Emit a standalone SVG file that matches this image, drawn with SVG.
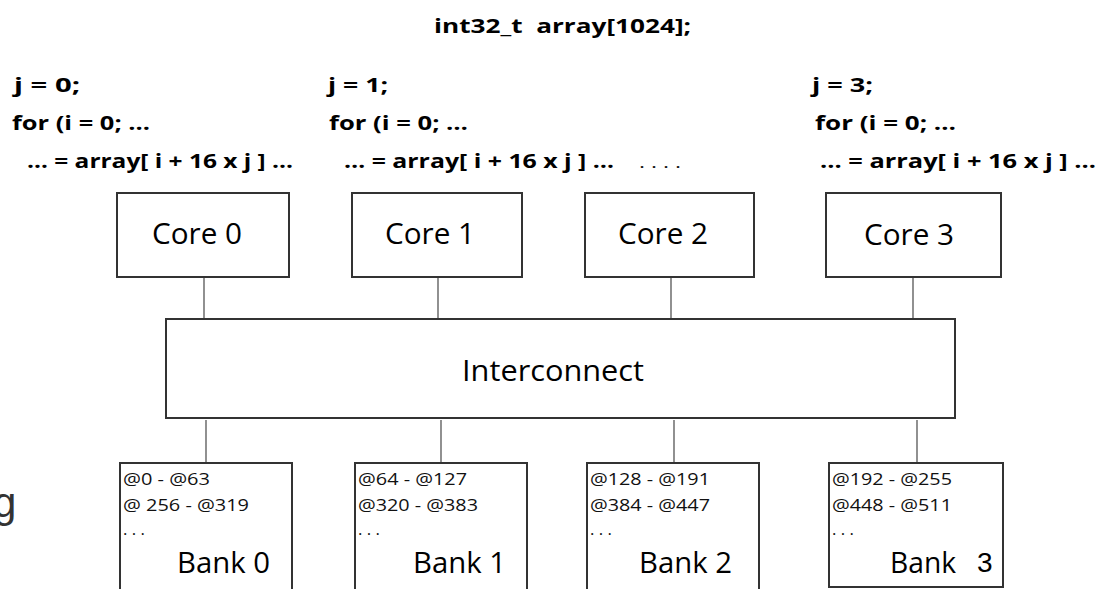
<svg xmlns="http://www.w3.org/2000/svg" width="1103" height="589" viewBox="0 0 1103 589">
  <style>
    .code { font-family: "Open Sans", Lato, "Liberation Sans", sans-serif; font-weight: bold; font-size: 20px; fill: #000; white-space: pre; }
    .label { font-family: "Open Sans", Lato, "Liberation Sans", sans-serif; font-size: 29px; fill: #000; }
    .addr { font-family: "Open Sans", Lato, "Liberation Sans", sans-serif; font-size: 17px; fill: #111; }
    .box { fill: #fff; stroke: #333; stroke-width: 2; }
    .side { fill: none; stroke: #333; stroke-width: 2; }
    .wire { stroke: #555; stroke-width: 1.3; fill: none; }
  </style>

  <rect width="1103" height="589" fill="#fff"/>

  <!-- array declaration -->
  <text class="code" x="434" y="33" textLength="257" lengthAdjust="spacingAndGlyphs">int32_t  array[1024];</text>

  <!-- per-core loop code -->
  <g id="code-core0">
    <text class="code" x="14" y="92" textLength="66" lengthAdjust="spacingAndGlyphs">j = 0;</text>
    <text class="code" x="12" y="130" textLength="138" lengthAdjust="spacingAndGlyphs">for (i = 0; …</text>
    <text class="code" x="27" y="168" textLength="266" lengthAdjust="spacingAndGlyphs">… = array[ i + 16 x j ] ...</text>
  </g>
  <g id="code-core1">
    <text class="code" x="328" y="92" textLength="60" lengthAdjust="spacingAndGlyphs">j = 1;</text>
    <text class="code" x="329" y="130" textLength="139" lengthAdjust="spacingAndGlyphs">for (i = 0; …</text>
    <text class="code" x="344" y="168" textLength="270" lengthAdjust="spacingAndGlyphs">… = array[ i + 16 x j ] …</text>
    <text class="addr" x="639" y="168" textLength="42" lengthAdjust="spacingAndGlyphs">. . . .</text>
  </g>
  <g id="code-core3">
    <text class="code" x="812" y="92" textLength="61" lengthAdjust="spacingAndGlyphs">j = 3;</text>
    <text class="code" x="815" y="130" textLength="141" lengthAdjust="spacingAndGlyphs">for (i = 0; …</text>
    <text class="code" x="820" y="168" textLength="276" lengthAdjust="spacingAndGlyphs">… = array[ i + 16 x j ] …</text>
  </g>

  <!-- letter cropped by the left edge -->
  <text x="-7" y="517" font-family="'Liberation Sans', Arial, sans-serif" font-size="42" fill="#333">g</text>

  <!-- connectors -->
  <g id="connectors">
    <line class="wire" x1="204" y1="277" x2="204" y2="319"/>
    <line class="wire" x1="438" y1="277" x2="438" y2="319"/>
    <line class="wire" x1="671" y1="277" x2="671" y2="319"/>
    <line class="wire" x1="913" y1="277" x2="913" y2="319"/>
    <line class="wire" x1="206" y1="420" x2="206" y2="462"/>
    <line class="wire" x1="441" y1="420" x2="441" y2="462"/>
    <line class="wire" x1="674" y1="420" x2="674" y2="462"/>
    <line class="wire" x1="917" y1="420" x2="917" y2="462"/>
  </g>

  <!-- cores -->
  <g id="core0">
    <rect class="box" x="117" y="193" width="172" height="84"/>
    <text class="label" x="152" y="244" textLength="90" lengthAdjust="spacingAndGlyphs">Core 0</text>
  </g>
  <g id="core1">
    <rect class="box" x="352" y="193" width="170" height="84"/>
    <text class="label" x="385" y="244" textLength="90" lengthAdjust="spacingAndGlyphs">Core 1</text>
  </g>
  <g id="core2">
    <rect class="box" x="585" y="193" width="169" height="84"/>
    <text class="label" x="618" y="244" textLength="90" lengthAdjust="spacingAndGlyphs">Core 2</text>
  </g>
  <g id="core3">
    <rect class="box" x="826" y="193" width="175" height="84"/>
    <text class="label" x="864" y="245" textLength="90" lengthAdjust="spacingAndGlyphs">Core 3</text>
  </g>

  <!-- interconnect -->
  <g id="interconnect">
    <rect class="box" x="166" y="319" width="789" height="99"/>
    <text class="label" x="462" y="381" textLength="182" lengthAdjust="spacingAndGlyphs">Interconnect</text>
  </g>

  <!-- memory banks, running past the bottom edge -->
  <g id="bank0">
    <path class="side" d="M120 590 V463 H292 V590"/>
    <text class="addr" x="123" y="485" textLength="87" lengthAdjust="spacingAndGlyphs">@0 - @63</text>
    <text class="addr" x="123" y="511" textLength="126" lengthAdjust="spacingAndGlyphs">@ 256 - @319</text>
    <text class="addr" x="123" y="535" textLength="22" lengthAdjust="spacingAndGlyphs">. . .</text>
    <text class="label" x="177" y="573" textLength="93" lengthAdjust="spacingAndGlyphs">Bank 0</text>
  </g>
  <g id="bank1">
    <path class="side" d="M355 590 V463 H527 V590"/>
    <text class="addr" x="358" y="485" textLength="109" lengthAdjust="spacingAndGlyphs">@64 - @127</text>
    <text class="addr" x="358" y="511" textLength="120" lengthAdjust="spacingAndGlyphs">@320 - @383</text>
    <text class="addr" x="358" y="535" textLength="22" lengthAdjust="spacingAndGlyphs">. . .</text>
    <text class="label" x="413" y="573" textLength="93" lengthAdjust="spacingAndGlyphs">Bank 1</text>
  </g>
  <g id="bank2">
    <path class="side" d="M587 590 V463 H759 V590"/>
    <text class="addr" x="590" y="485" textLength="120" lengthAdjust="spacingAndGlyphs">@128 - @191</text>
    <text class="addr" x="590" y="511" textLength="120" lengthAdjust="spacingAndGlyphs">@384 - @447</text>
    <text class="addr" x="590" y="535" textLength="22" lengthAdjust="spacingAndGlyphs">. . .</text>
    <text class="label" x="639" y="573" textLength="93" lengthAdjust="spacingAndGlyphs">Bank 2</text>
  </g>
  <g id="bank3">
    <rect class="box" x="829" y="463" width="174" height="124"/>
    <text class="addr" x="832" y="485" textLength="120" lengthAdjust="spacingAndGlyphs">@192 - @255</text>
    <text class="addr" x="832" y="511" textLength="120" lengthAdjust="spacingAndGlyphs">@448 - @511</text>
    <text class="addr" x="832" y="535" textLength="22" lengthAdjust="spacingAndGlyphs">. . .</text>
    <text class="label" x="890" y="573" textLength="66" lengthAdjust="spacingAndGlyphs">Bank</text>
    <text x="977" y="572" font-family="'Liberation Sans', Arial, sans-serif" font-size="28" fill="#000">3</text>
  </g>
</svg>
